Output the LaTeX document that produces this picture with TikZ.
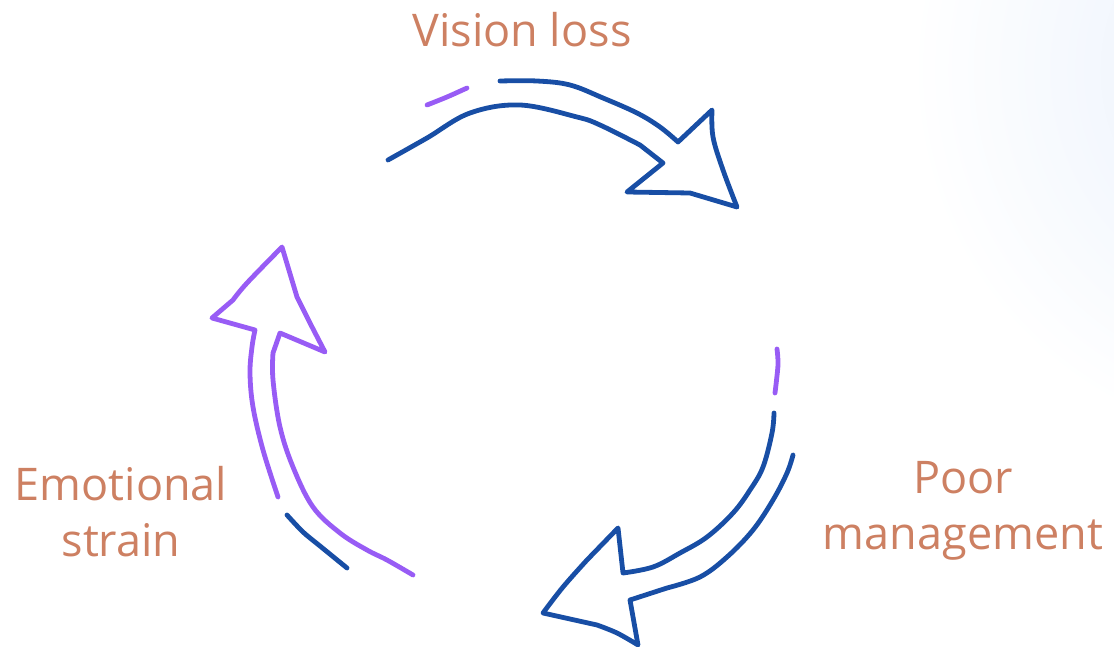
\documentclass[tikz,border=0pt]{standalone}
\usepackage{fontspec}
\setmainfont{Open Sans}
\usepackage{xcolor}
\usetikzlibrary{positioning}
\definecolor{penblue}{RGB}{24,78,165}
\definecolor{penviolet}{RGB}{152,92,245}
\definecolor{labelbrown}{RGB}{205,128,98}
\definecolor{haze}{RGB}{232,240,252}

\begin{document}
\begin{tikzpicture}[x=1pt,y=-1pt,line cap=round,line join=round]
			\tikzstyle{every node}=[text=labelbrown,font=\fontsize{45}{56}\selectfont,align=center]
			\tikzstyle{blue pen}=[draw=penblue,line width=4.8pt]
			\tikzstyle{violet pen}=[draw=penviolet,line width=4.8pt]
			\useasboundingbox (0,0) rectangle (1114,647);
			\shade[inner color=haze,outer color=white] (1290,70) circle (380);
			\node[anchor=base]    (vision)                                        at (522,47)  {Vision loss};
			\node[anchor=base]    (strain)                                        at (121,556) {Emotional\\strain};
			\node[anchor=base]    (manage)[right of=strain,node distance=842pt]                {Poor\\management};
			\path[blue pen] plot[smooth,tension=.6] coordinates {(500,81) (537,81) (570,85) (603,98) (637,113) (660,127) (678,142)}
			  -- plot[smooth,tension=.6] coordinates {(712,110) (713,137) (723,170) (737,207)}
			  -- plot[smooth,tension=.6] coordinates {(690,193) (627,192)}
			  -- (663,163)
			  -- plot[smooth,tension=.6] coordinates {(640,145) (600,125) (577,117) (520,105) (470,113) (427,138) (388,160)};
			\path[blue pen] plot[smooth,tension=.6] coordinates {(774,413) (772,433) (763,467) (750,490) (733,513) (707,537) (680,553) (653,567) (623,573)}
			  -- (618,528)
			  -- plot[smooth,tension=.6] coordinates {(587,560) (563,587) (543,613)}
			  -- plot[smooth,tension=.6] coordinates {(597,625) (617,633) (638,645)}
			  -- (630,600)
			  -- plot[smooth,tension=.6] coordinates {(667,588) (700,577) (727,557) (753,530) (773,500) (787,473) (793,455)};
			\path[violet pen] plot[smooth,tension=.6] coordinates {(278,497) (263,450) (253,407) (250,373) (252,347) (255,330)}
			  -- (212,318)
			  -- plot[smooth,tension=.6] coordinates {(233,300) (247,283) (282,247)}
			  -- plot[smooth,tension=.6] coordinates {(297,297) (310,323) (325,352)}
			  -- (280,333)
			  -- plot[smooth,tension=.6] coordinates {(273,353) (273,380) (280,427) (293,467) (313,507) (340,533) (367,550) (387,560) (413,575)};
			\path[violet pen] plot[smooth] coordinates {(427,105) (447,97) (467,88)};
			\path[violet pen] plot[smooth] coordinates {(777,349) (778,365) (775,393)};
			\path[blue pen] plot[smooth] coordinates {(287,515) (303,532) (320,546) (347,568)};
		\end{tikzpicture}
\end{document}
